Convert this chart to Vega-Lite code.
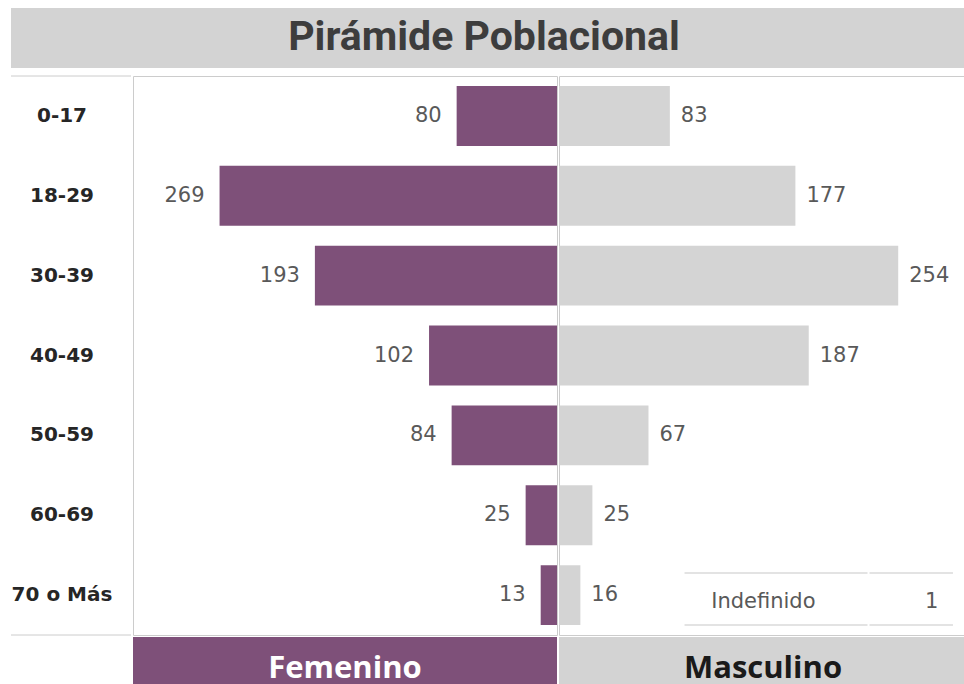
{
  "$schema": "https://vega.github.io/schema/vega-lite/v6.json",
  "padding": {"left": 10, "top": 8, "right": 0, "bottom": 0},
  "spacing": 7,
  "config": {
    "font": "DejaVu Sans",
    "view": {"stroke": "#cccccc", "strokeWidth": 1}
  },
  "datasets": {
    "piramide": [
      {"edad": "0-17", "sexo": "Femenino", "n": 80},
      {"edad": "18-29", "sexo": "Femenino", "n": 269},
      {"edad": "30-39", "sexo": "Femenino", "n": 193},
      {"edad": "40-49", "sexo": "Femenino", "n": 102},
      {"edad": "50-59", "sexo": "Femenino", "n": 84},
      {"edad": "60-69", "sexo": "Femenino", "n": 25},
      {"edad": "70 o Más", "sexo": "Femenino", "n": 13},
      {"edad": "0-17", "sexo": "Masculino", "n": 83},
      {"edad": "18-29", "sexo": "Masculino", "n": 177},
      {"edad": "30-39", "sexo": "Masculino", "n": 254},
      {"edad": "40-49", "sexo": "Masculino", "n": 187},
      {"edad": "50-59", "sexo": "Masculino", "n": 67},
      {"edad": "60-69", "sexo": "Masculino", "n": 25},
      {"edad": "70 o Más", "sexo": "Masculino", "n": 16}
    ],
    "titulo": [{"texto": "Pirámide Poblacional"}],
    "otros": [{"categoria": "Indefinido", "n": 1, "edad": "70 o Más"}]
  },
  "vconcat": [
    {
      "data": {"name": "titulo"},
      "width": 954,
      "height": 60,
      "view": {"fill": "#d3d3d3", "stroke": null},
      "mark": {"type": "text", "font": "Roboto", "fontWeight": "bold", "fontSize": 41, "color": "#3d3d3d", "dx": -4},
      "encoding": {"text": {"field": "texto"}}
    },
    {
      "hconcat": [
        {
          "width": 120,
          "height": 559,
          "view": {"stroke": null},
          "resolve": {"scale": {"y": "independent"}, "axis": {"y": "independent"}},
          "layer": [
            {
              "data": {"name": "piramide"},
              "transform": [{"filter": "datum.sexo === 'Femenino'"}],
              "mark": {"type": "text", "fontWeight": "bold", "fontSize": 20, "color": "#262626", "dx": -9},
              "encoding": {
                "y": {"field": "edad", "type": "nominal", "scale": {"domain": ["0-17", "18-29", "30-39", "40-49", "50-59", "60-69", "70 o Más"], "paddingInner": 0.25, "paddingOuter": 0.125}, "axis": null},
                "text": {"field": "edad"}
              }
            },
            {
              "data": {"values": [{}]},
              "mark": {"type": "rule", "color": "#cccccc", "strokeWidth": 1},
              "encoding": {"y": {"datum": 0, "type": "quantitative", "scale": {"domain": [0, 1]}, "axis": null}}
            },
            {
              "data": {"values": [{}]},
              "mark": {"type": "rule", "color": "#cccccc", "strokeWidth": 1},
              "encoding": {"y": {"datum": 1, "type": "quantitative", "scale": {"domain": [0, 1]}, "axis": null}}
            }
          ]
        },
        {
          "vconcat": [
            {
              "width": 424,
              "height": 559,
              "data": {"name": "piramide"},
              "transform": [{"filter": "datum.sexo === 'Femenino'"}],
              "encoding": {
                "y": {"field": "edad", "type": "nominal", "scale": {"domain": ["0-17", "18-29", "30-39", "40-49", "50-59", "60-69", "70 o Más"], "paddingInner": 0.25, "paddingOuter": 0.125}, "axis": null},
                "x": {"field": "n", "type": "quantitative", "scale": {"domain": [0, 338], "reverse": true, "nice": false}, "axis": null}
              },
              "layer": [
                {"mark": {"type": "bar", "color": "#7e5079"}},
                {
                  "mark": {"type": "text", "align": "right", "dx": -15, "fontSize": 21, "color": "#595959"},
                  "encoding": {"text": {"field": "n"}}
                }
              ]
            },
            {
              "data": {"values": [{"sexo": "Femenino"}]},
              "width": 424,
              "height": 64,
              "view": {"fill": "#7e5079", "stroke": null},
              "mark": {"type": "text", "font": "Open Sans", "fontWeight": "bold", "fontSize": 31, "color": "#ffffff"},
              "encoding": {"text": {"field": "sexo"}}
            }
          ],
          "spacing": 1
        },
        {
          "vconcat": [
            {
              "width": 408,
              "height": 559,
              "encoding": {
                "y": {"field": "edad", "type": "nominal", "scale": {"domain": ["0-17", "18-29", "30-39", "40-49", "50-59", "60-69", "70 o Más"], "paddingInner": 0.25, "paddingOuter": 0.125}, "axis": null}
              },
              "layer": [
                {
                  "data": {"name": "piramide"},
                  "transform": [{"filter": "datum.sexo === 'Masculino'"}],
                  "mark": {"type": "bar", "color": "#d4d4d4"},
                  "encoding": {"x": {"field": "n", "type": "quantitative", "scale": {"domain": [0, 305.5], "nice": false}, "axis": null}}
                },
                {
                  "data": {"name": "piramide"},
                  "transform": [{"filter": "datum.sexo === 'Masculino'"}],
                  "mark": {"type": "text", "align": "left", "dx": 11, "fontSize": 21, "color": "#595959"},
                  "encoding": {"x": {"field": "n", "type": "quantitative"}, "text": {"field": "n"}}
                },
                {
                  "data": {"name": "otros"},
                  "mark": {"type": "rule", "color": "#dadada", "strokeWidth": 1.5},
                  "encoding": {
                    "x": {"datum": 94, "type": "quantitative"},
                    "x2": {"datum": 231},
                    "y": {"field": "edad", "type": "nominal", "bandPosition": 0.13}
                  }
                },
                {
                  "data": {"name": "otros"},
                  "mark": {"type": "rule", "color": "#dadada", "strokeWidth": 1.5},
                  "encoding": {
                    "x": {"datum": 232.5, "type": "quantitative"},
                    "x2": {"datum": 295},
                    "y": {"field": "edad", "type": "nominal", "bandPosition": 0.13}
                  }
                },
                {
                  "data": {"name": "otros"},
                  "mark": {"type": "rule", "color": "#dadada", "strokeWidth": 1.5},
                  "encoding": {
                    "x": {"datum": 94, "type": "quantitative"},
                    "x2": {"datum": 231},
                    "y": {"field": "edad", "type": "nominal", "bandPosition": 1}
                  }
                },
                {
                  "data": {"name": "otros"},
                  "mark": {"type": "rule", "color": "#dadada", "strokeWidth": 1.5},
                  "encoding": {
                    "x": {"datum": 232.5, "type": "quantitative"},
                    "x2": {"datum": 295},
                    "y": {"field": "edad", "type": "nominal", "bandPosition": 1}
                  }
                },
                {
                  "data": {"name": "otros"},
                  "mark": {"type": "text", "align": "left", "fontSize": 21, "color": "#595959"},
                  "encoding": {
                    "x": {"datum": 114, "type": "quantitative"},
                    "y": {"field": "edad", "type": "nominal", "bandPosition": 0.615},
                    "text": {"field": "categoria"}
                  }
                },
                {
                  "data": {"name": "otros"},
                  "mark": {"type": "text", "align": "center", "fontSize": 21, "color": "#595959"},
                  "encoding": {
                    "x": {"datum": 279, "type": "quantitative"},
                    "y": {"field": "edad", "type": "nominal", "bandPosition": 0.615},
                    "text": {"field": "n"}
                  }
                }
              ]
            },
            {
              "data": {"values": [{"sexo": "Masculino"}]},
              "width": 408,
              "height": 64,
              "view": {"fill": "#d3d3d3", "stroke": null},
              "mark": {"type": "text", "font": "Open Sans", "fontWeight": "bold", "fontSize": 31, "color": "#1a1a1a"},
              "encoding": {"text": {"field": "sexo"}}
            }
          ],
          "spacing": 1
        }
      ],
      "spacing": 0
    }
  ]
}
